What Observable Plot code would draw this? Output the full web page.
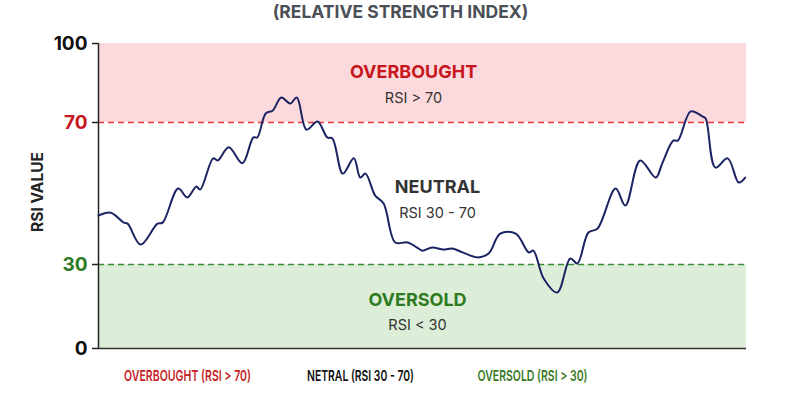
<!DOCTYPE html>
<html>
<head>
<meta charset="utf-8">
<script src="https://cdn.jsdelivr.net/npm/d3@7"></script>
<script src="https://cdn.jsdelivr.net/npm/@observablehq/plot@0.6"></script>
<style>
  html, body { margin: 0; padding: 0; background: #fff; }
  #chart svg { display: block; font-family: Inter, Roboto, "Noto Sans", sans-serif; }
</style>
</head>
<body>
<div id="chart"></div>
<script>
// RSI readings over the session (day index, RSI value)
const days = [0, 1.9, 3.9, 4.5, 6.5, 9.1, 9.9, 12.3, 13.7, 15.1, 15.7, 17.7, 18.4, 20.1, 22.2, 23.9, 24.5,
  25.8, 26.9, 28.2, 29.6, 30.6, 32.1, 33.8, 35.3, 36.1, 37.7, 39.4, 40.4, 41.2, 42.7, 44.0, 45.8, 47.7,
  49.4, 50.0, 51.5, 53.2, 54.6, 56.2, 58.5, 60.2, 62.0, 64.4, 66.4, 67.1, 68.7, 70.8, 72.8, 73.9, 75.6,
  77.0, 79.8, 81.3, 83.6, 86.0, 87.0, 88.7, 89.4, 91.4, 93.2, 93.7, 95.2, 97.1, 98.8, 99.8];
const rsiValues = [43.8, 44.6, 41.8, 41.5, 35.6, 41.5, 41.8, 51.4, 48.9, 52.0, 51.1, 59.9, 59.3, 63.0, 58.5, 65.8, 65.8,
  73.4, 74.6, 79.5, 77.2, 79.5, 68.0, 70.4, 65.8, 65.5, 55.6, 59.9, 54.5, 55.6, 49.4, 47.2, 36.2, 36.2,
  34.5, 33.9, 34.8, 34.2, 34.5, 33.4, 32.0, 33.1, 38.7, 38.7, 33.4, 33.9, 25.0, 20.0, 31.7, 30.3, 39.0,
  40.1, 51.4, 46.6, 59.3, 54.5, 58.5, 64.9, 64.9, 74.2, 72.3, 71.5, 57.3, 59.9, 53.1, 54.5];

// Zones
const zoneNames = ["OVERBOUGHT", "NEUTRAL", "OVERSOLD"];
const zoneRules = ["RSI > 70", "RSI 30 - 70", "RSI < 30"];
const zoneLow = [70, 30, 0];
const zoneHigh = [100, 70, 30];

// Axis ticks and thresholds
const yTicks = [0, 30, 70, 100];
const thresholds = [70, 30];

// Text
const titleText = "(RELATIVE STRENGTH INDEX)";
const yLabel = "RSI VALUE";
const footerLabels = ["OVERBOUGHT (RSI > 70)", "NETRAL (RSI 30 - 70)", "OVERSOLD (RSI > 30)"];

const series = days.map((d, i) => ({day: d, rsi: rsiValues[i]}));
const zones = zoneNames.map((name, i) => ({name, rule: zoneRules[i], lo: zoneLow[i], hi: zoneHigh[i], mid: (zoneLow[i] + zoneHigh[i]) / 2}));

const RED = "#c8161d", GREEN = "#2e7a1f", DARK = "#333";
const zoneFill = {OVERBOUGHT: "#fcd9dc", NEUTRAL: "#ffffff", OVERSOLD: "#ddeed8"};
const zoneText = {OVERBOUGHT: RED, NEUTRAL: DARK, OVERSOLD: GREEN};
const zoneDx = {OVERBOUGHT: -9, NEUTRAL: 15, OVERSOLD: -5};
const zoneDy = {OVERBOUGHT: [-11, 15], NEUTRAL: [-6, 20], OVERSOLD: [-6, 19]};
const tickColor = v => v === 70 ? RED : v === 30 ? GREEN : "#111";
const footerColor = ["#c41e24", "#111", "#3a7a26"];
const footerDx = [-235, -62, 110];
const footerWidth = [127, 107, 110];

const W = 800, H = 400;
const mL = 98, mR = 54, mT = 43, mB = 52;

const zoneLabelMarks = zones.flatMap(z => [
  Plot.text([z], {y: "mid", frameAnchor: "middle", dx: zoneDx[z.name], dy: zoneDy[z.name][0], text: "name",
    fill: zoneText[z.name], fontSize: 18, fontWeight: "bold"}),
  Plot.text([z], {y: "mid", frameAnchor: "middle", dx: zoneDx[z.name], dy: zoneDy[z.name][1], text: "rule",
    fill: "#333", fontSize: 14.5})
]);

const footerMarks = footerLabels.map((label, i) =>
  Plot.text([label], {frameAnchor: "bottom", lineAnchor: "middle", dx: footerDx[i], dy: 28, text: d => d,
    fill: footerColor[i], fontSize: 15, fontWeight: 600})
);

const chart = Plot.plot({
  width: W,
  height: H,
  marginLeft: mL,
  marginRight: mR,
  marginTop: mT,
  marginBottom: mB,
  x: {domain: [0, 100], axis: null},
  y: {type: "linear", domain: [0, 30, 70, 100], range: [348, 264, 122, 43], axis: null},
  marks: [
    // zone backgrounds
    Plot.rect(zones, {y1: "lo", y2: "hi", fill: d => zoneFill[d.name]}),
    // thresholds
    Plot.ruleY(thresholds, {stroke: d => d === 70 ? "#ea3a3c" : "#3a8a3a", strokeWidth: 1.3, strokeDasharray: "6,4"}),
    // axis lines and ticks
    Plot.axisY({ticks: yTicks, tickSize: 6, tickFormat: () => "", label: null, stroke: "#222", strokeWidth: 1.5}),
    Plot.ruleX([0], {y1: 0, y2: 100, stroke: "#222", strokeWidth: 1.5}),
    Plot.ruleY([0], {stroke: "#333", strokeWidth: 1.5}),
    // tick labels
    Plot.text(yTicks, {y: d => d, frameAnchor: "left", dx: -11, textAnchor: "end", text: d => String(d),
      fill: tickColor, fontSize: 19, fontWeight: "bold"}),
    // y label
    Plot.text([yLabel], {frameAnchor: "left", dx: -60, dy: -4, rotate: -90, textAnchor: "middle", text: d => d,
      fontSize: 15.5, fontWeight: "bold", fill: "#222"}),
    // RSI line
    Plot.line(series, {x: "day", y: "rsi", curve: "catmull-rom", stroke: "#1b2463", strokeWidth: 2}),
    ...zoneLabelMarks,
    // title
    Plot.text([titleText], {frameAnchor: "top", lineAnchor: "middle", dx: -22, dy: -31, text: d => d,
      fontSize: 17.5, fontWeight: "bold", fill: "#4b5057"}),
    ...footerMarks
  ]
});

// footer legend is set in a condensed width
d3.select(chart).selectAll("text").each(function () {
  const idx = footerLabels.indexOf(this.textContent);
  if (idx >= 0) {
    this.setAttribute("textLength", footerWidth[idx]);
    this.setAttribute("lengthAdjust", "spacingAndGlyphs");
  }
});

document.getElementById("chart").appendChild(chart);
</script>
</body>
</html>
